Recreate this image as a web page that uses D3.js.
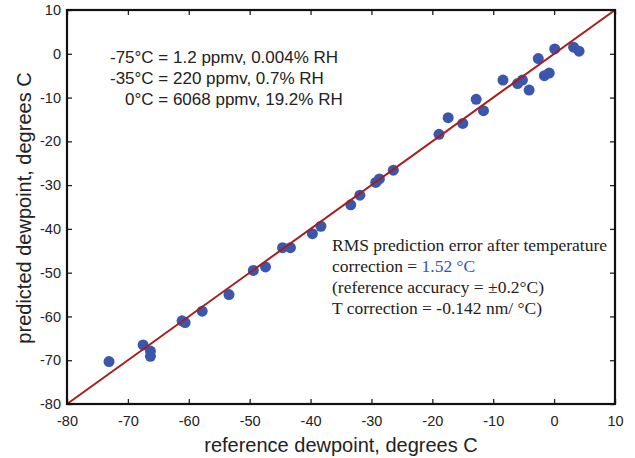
<!DOCTYPE html>
<html>
<head>
<meta charset="utf-8">
<script src="https://cdn.jsdelivr.net/npm/d3@7"></script>
<style>
  body { margin: 0; background: #fff; }
  text { font-family: "Liberation Sans", Arial, sans-serif; }
</style>
</head>
<body>
<div id="chart"></div>
<script>
var width = 635;
var height = 458;

// reference dewpoint (x) and predicted dewpoint (y), degrees C
var refDew = [-73.1, -67.5, -66.3, -66.3, -61.1, -60.6, -57.8, -53.4, -49.4, -47.4,
    -44.6, -43.3, -39.7, -38.3, -33.4, -31.9, -29.3, -28.7, -26.4, -18.9,
    -17.4, -15.0, -12.8, -11.6, -8.4, -6.0, -5.2, -4.1, -2.6, -1.6,
    -0.8, 0.1, 3.2, 4.1];
var predDew = [-70.3, -66.5, -67.9, -69.1, -61.0, -61.4, -58.8, -55.0, -49.5, -48.7,
    -44.3, -44.3, -41.1, -39.4, -34.5, -32.3, -29.4, -28.6, -26.6, -18.4,
    -14.6, -15.9, -10.4, -13.0, -6.0, -6.8, -6.0, -8.3, -1.1, -5.0,
    -4.4, 1.1, 1.5, 0.6];

var ticks = [-80, -70, -60, -50, -40, -30, -20, -10, 0, 10];

var note1 = ["-75\u00B0C = 1.2 ppmv, 0.004% RH", "-35\u00B0C = 220 ppmv, 0.7% RH", "0\u00B0C = 6068 ppmv, 19.2% RH"];

var svg = d3.select("#chart")
    .append("svg")
    .attr("width", width)
    .attr("height", height);

var plotL = 67, plotR = 615, plotT = 10, plotB = 404;

var xScale = d3.scaleLinear().domain([-80, 10]).range([plotL, plotR]);
var yScale = d3.scaleLinear().domain([-80, 10]).range([plotB, plotT]);

function fmt(d) { return String(d); }

// axes with inward ticks
var xAxis = d3.axisBottom(xScale).tickValues(ticks).tickSize(-5).tickPadding(12).tickFormat(fmt);
var yAxis = d3.axisLeft(yScale).tickValues(ticks).tickSize(-5).tickPadding(6).tickFormat(fmt);

svg.append("g")
    .attr("transform", "translate(0," + plotB + ")")
    .call(xAxis);
svg.append("g")
    .attr("transform", "translate(" + plotL + ",0)")
    .call(yAxis);
svg.append("g")
    .attr("transform", "translate(0," + plotT + ")")
    .call(d3.axisTop(xScale).tickValues(ticks).tickSize(-5).tickFormat(""));
svg.append("g")
    .attr("transform", "translate(" + plotR + ",0)")
    .call(d3.axisRight(yScale).tickValues(ticks).tickSize(-5).tickFormat(""));

svg.selectAll(".domain").remove();
svg.selectAll(".tick line").attr("stroke", "#222").attr("stroke-width", 1.3);
svg.selectAll(".tick text")
    .style("font-family", "Liberation Sans, Arial, sans-serif")
    .style("font-size", "14.5px")
    .attr("fill", "#222");

// points
svg.append("g")
    .selectAll("circle")
    .data(refDew)
    .enter()
    .append("circle")
    .attr("cx", function (d) { return xScale(d); })
    .attr("cy", function (d, i) { return yScale(predDew[i]); })
    .attr("r", 5.5)
    .attr("fill", "#3b56ad");

// 1:1 line
svg.append("line")
    .attr("x1", xScale(-80))
    .attr("y1", yScale(-80))
    .attr("x2", xScale(10))
    .attr("y2", yScale(10))
    .attr("stroke", "#a81c1c")
    .attr("stroke-width", 2);

// frame
svg.append("rect")
    .attr("x", plotL)
    .attr("y", plotT)
    .attr("width", plotR - plotL)
    .attr("height", plotB - plotT)
    .attr("fill", "none")
    .attr("stroke", "#111")
    .attr("stroke-width", 2.2);

// axis titles
svg.append("text")
    .attr("x", (plotL + plotR) / 2)
    .attr("y", 452)
    .attr("text-anchor", "middle")
    .style("font-size", "20px")
    .attr("fill", "#222")
    .text("reference dewpoint, degrees C");

svg.append("text")
    .attr("transform", "translate(31,208) rotate(-90)")
    .attr("text-anchor", "middle")
    .style("font-size", "20px")
    .attr("fill", "#222")
    .text("predicted dewpoint, degrees C");

// humidity note
var noteX = [110, 110, 125];
svg.append("g")
    .selectAll("text")
    .data(note1)
    .enter()
    .append("text")
    .attr("x", function (d, i) { return noteX[i]; })
    .attr("y", function (d, i) { return 63 + i * 21; })
    .style("font-size", "17px")
    .attr("fill", "#222")
    .text(function (d) { return d; });

// RMS note
var rms = svg.append("g")
    .style("font-family", "Liberation Serif, Times New Roman, serif")
    .style("font-size", "17.5px")
    .attr("fill", "#222");
rms.append("text").attr("x", 332).attr("y", 251)
    .style("font-family", "inherit")
    .text("RMS prediction error after temperature");
var l2 = rms.append("text").attr("x", 332).attr("y", 272).style("font-family", "inherit");
l2.append("tspan").text("correction = ");
l2.append("tspan").attr("fill", "#3b4fb0").text("1.52 \u00B0C");
rms.append("text").attr("x", 332).attr("y", 293)
    .style("font-family", "inherit")
    .text("(reference accuracy = \u00B10.2\u00B0C)");
rms.append("text").attr("x", 332).attr("y", 314)
    .style("font-family", "inherit")
    .text("T correction = -0.142 nm/ \u00B0C)");
</script>
</body>
</html>
